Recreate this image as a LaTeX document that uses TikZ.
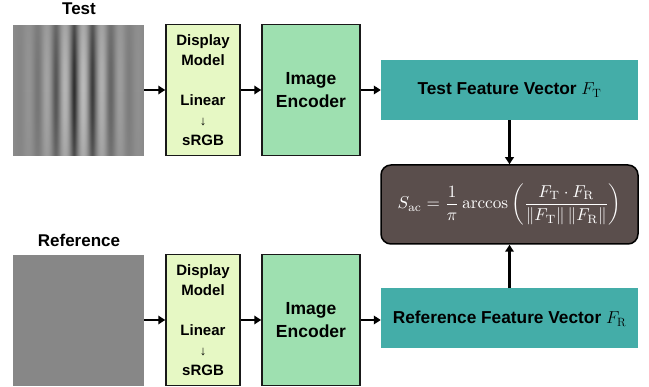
\documentclass[tikz,border=0pt]{standalone}
\usepackage{amsmath}
\usepackage[no-math]{fontspec}
\usetikzlibrary{arrows.meta,fadings}
\newfontfamily\lsans{Liberation Sans}

\definecolor{dispfill}{HTML}{E6F8C4}
\definecolor{encfill}{HTML}{9EE0B0}
\definecolor{featfill}{HTML}{44ADA8}
\definecolor{formfill}{HTML}{5A4E4C}
\definecolor{stimbg}{rgb}{0.542,0.542,0.542}
\definecolor{refgray}{HTML}{878787}

% vertical Gaussian envelope of the grating (white = opaque background overlay)
\pgfdeclareverticalshading{gaborvert}{100bp}{%
  rgb(0bp)=(0.83,0.83,0.83); rgb(10bp)=(0.67,0.67,0.67);
  rgb(20bp)=(0.47,0.47,0.47); rgb(30bp)=(0.24,0.24,0.24);
  rgb(40bp)=(0.07,0.07,0.07); rgb(50bp)=(0,0,0);
  rgb(60bp)=(0.07,0.07,0.07); rgb(70bp)=(0.24,0.24,0.24);
  rgb(80bp)=(0.47,0.47,0.47); rgb(90bp)=(0.67,0.67,0.67);
  rgb(100bp)=(0.83,0.83,0.83)}
\pgfdeclarefading{gaborfade}{\pgfuseshading{gaborvert}}

\tikzset{
  lbl/.style={font=\lsans\bfseries\fontsize{17}{20}\selectfont},
  stim/.style={minimum width=131pt, minimum height=131pt, inner sep=0pt},
  dispbox/.style={draw=black!90, line width=1.5pt, fill=dispfill,
    minimum width=74pt, minimum height=131pt, inner sep=0pt, align=center,
    font=\lsans\bfseries\fontsize{15}{20}\selectfont},
  encbox/.style={draw=black!90, line width=1.5pt, fill=encfill,
    minimum width=98pt, minimum height=131pt, inner sep=0pt, align=center,
    font=\lsans\bfseries\fontsize{17.5}{23}\selectfont},
  featbox/.style={fill=featfill, minimum width=257pt, minimum height=60pt,
    inner sep=0pt, font=\lsans\bfseries\fontsize{17.28}{20}\selectfont},
  formbox/.style={draw=black, line width=1.5pt, fill=formfill,
    rounded corners=10pt, minimum width=257pt, minimum height=79pt,
    inner sep=0pt, text=white},
  flow/.style={-{Triangle[length=7pt,width=8.5pt]}, line width=2.5pt},
}

\begin{document}
\begin{tikzpicture}[x=1pt, y=-1pt]
\useasboundingbox (0,0) rectangle (649,387);

% ---- test stimulus: Gabor grating ----
\fill[stimbg] (13,25) rectangle (144,156);
\foreach \i in {0,...,130}{
  \pgfmathsetmacro\dx{13+\i+0.5-83.5}
  \pgfmathsetmacro\env{exp(-((\dx+3.5)^2)/1568)}
  \pgfmathsetmacro\lum{0.26*(1+0.92*\env*cos(19.459*\dx))}
  \pgfmathsetmacro\val{pow(\lum,0.4545)}
  \definecolor{gbstrip}{rgb}{\val,\val,\val}
  \fill[gbstrip] (13+\i,25) rectangle (14.1+\i,156);
}
\fill[stimbg, path fading=gaborfade] (13,25) rectangle (144,156);

% ---- reference stimulus: uniform field ----
\fill[refgray] (13,255) rectangle (144,386);

% ---- nodes ----
\node[lbl] (tlab) at (79,9) {Test};
\node[stim] (timg) at (78.5,90) {};
\node[dispbox] (tdisp) at (203,90)
  {Display\\Model\\[20pt]Linear\\{\fontsize{13}{20}\selectfont ↓}\\sRGB};
\node[encbox] (tenc) at (311,90) {Image\\Encoder};
\node[featbox] (tfeat) at (509.5,90) {Test Feature Vector $F_{\mathrm{T}}$};

\node[formbox] (form) at (509.5,204.5)
  {\scalebox{1.72}{$\displaystyle S_{\mathrm{ac}} = \frac{1}{\pi}\arccos\left(\frac{F_{\mathrm{T}}\cdot F_{\mathrm{R}}}{\lVert F_{\mathrm{T}}\rVert\,\lVert F_{\mathrm{R}}\rVert}\right)$}};

\node[lbl] (rlab) at (79,240) {Reference};
\node[stim] (rimg) at (78.5,320.5) {};
\node[dispbox] (rdisp) at (203,320)
  {Display\\Model\\[20pt]Linear\\{\fontsize{13}{20}\selectfont ↓}\\sRGB};
\node[encbox] (renc) at (311,320) {Image\\Encoder};
\node[featbox] (rfeat) at (509.5,318.5) {Reference Feature Vector $F_{\mathrm{R}}$};

% ---- connectors ----
\draw[flow] (timg.east) -- (tdisp.west);
\draw[flow] (tdisp.east) -- (tenc.west);
\draw[flow] (tenc.east) -- (tfeat.west);
\draw[flow] (rimg.east |- rdisp.west) -- (rdisp.west);
\draw[flow] (rdisp.east) -- (renc.west);
\draw[flow] (renc.east) -- (renc.east -| rfeat.west);
\draw[flow] (tfeat.south) -- (form.north);
\draw[flow] (rfeat.north) -- (form.south);
\end{tikzpicture}
\end{document}
